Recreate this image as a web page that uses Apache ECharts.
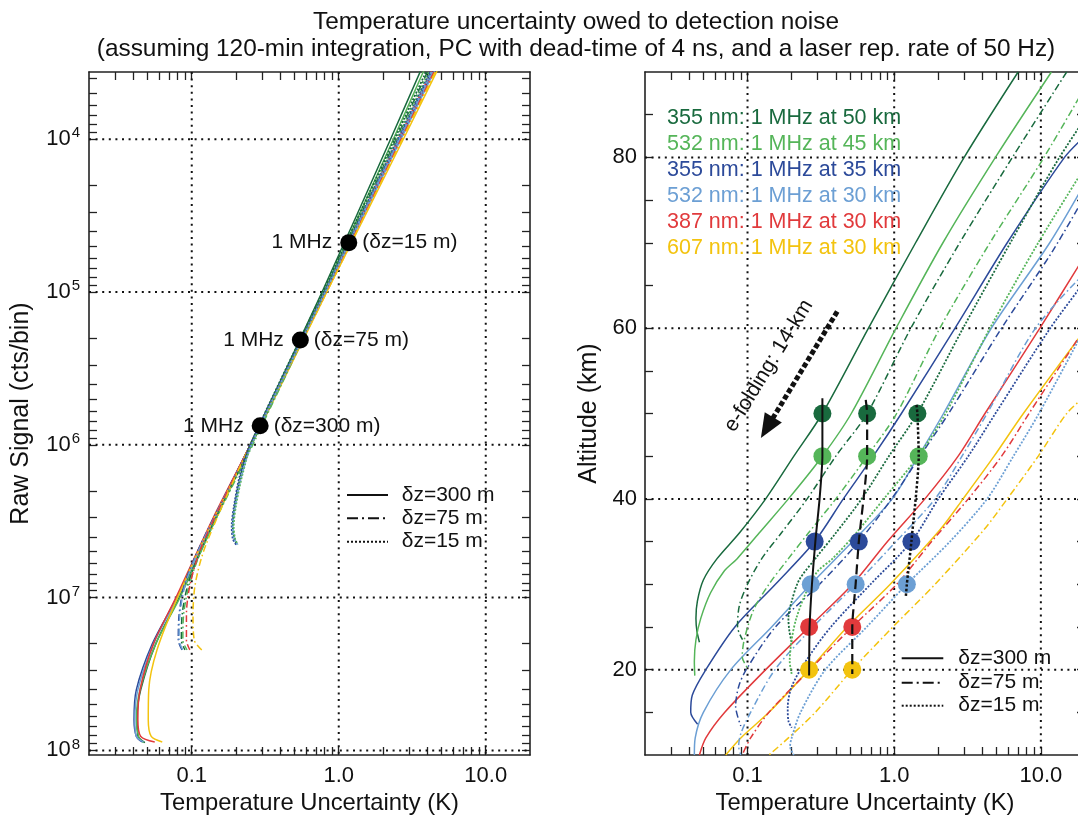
<!DOCTYPE html>
<html>
<head>
<meta charset="utf-8">
<script src="https://cdn.jsdelivr.net/npm/echarts@6.0.0/dist/echarts.min.js"></script>
<style>
html,body{margin:0;padding:0;background:#ffffff;}
#chart{width:1078px;height:816px;}
</style>
</head>
<body>
<div id="chart"></div>
<script>
// ===================== DATA =====================
const titleLine1 = 'Temperature uncertainty owed to detection noise';
const titleLine2 = '(assuming 120-min integration, PC with dead-time of 4 ns, and a laser rep. rate of 50 Hz)';
const xAxisTitle = 'Temperature Uncertainty (K)';
const leftYTitle = 'Raw Signal (cts/bin)';
const rightYTitle = 'Altitude (km)';

// colour order: 355 nm (50 km), 532 nm (45 km), 355 nm (35 km), 532 nm (30 km), 387 nm, 607 nm
const curveColors = ['#196a3e', '#55b559', '#2c4a9a', '#6c9fd4', '#e13a3c', '#f3c30f'];
const legendLabels = ['355 nm: 1 MHz at 50 km', '532 nm: 1 MHz at 45 km', '355 nm: 1 MHz at 35 km',
                      '532 nm: 1 MHz at 30 km', '387 nm: 1 MHz at 30 km', '607 nm: 1 MHz at 30 km'];
const styleLabels = ['\u03b4z=300 m', '\u03b4z=75 m', '\u03b4z=15 m'];

const xTickValues = [0.1, 1, 10];
const xTickLabels = ['0.1', '1.0', '10.0'];
const xRange = [0.02, 20];
const signalTickPowers = [4, 5, 6, 7, 8];
const signalRangeLog = [3.56, 8.03];
const altitudeTicks = [20, 40, 60, 80];
const altitudeRange = [10, 90];

// ---------- right panel: [uncertainty K, altitude km] ----------
const rDG300 = [[7.0,90],[3.0,80],[1.4,70],[0.668,60],[0.324,50],[0.207,45],[0.133,40],[0.088,36],[0.062,33],[0.05,30.5],[0.0455,28],[0.0445,26],[0.0452,24.5],[0.047,23.2]];
const rG300  = [[11.8,90],[4.9,80],[2.15,70],[1.03,60],[0.51,50],[0.324,45],[0.19,40],[0.12,36],[0.085,33],[0.069,31.5],[0.056,29],[0.048,26],[0.0445,23.5],[0.0434,21],[0.0437,19.3]];
const rB300  = [[20,82.5],[14.5,80],[5.9,70],[2.6,60],[1.12,50],[0.72,45],[0.45,40],[0.287,35],[0.155,30],[0.082,25],[0.052,20],[0.042,17],[0.041,15],[0.0457,13.6]];
const rLB300 = [[20,77],[11.5,70],[4.6,60],[2.17,50],[1.46,45],[0.97,40],[0.52,35],[0.27,30],[0.146,25],[0.077,20],[0.05,15],[0.044,12],[0.0434,10]];
const rR300  = [[20,68.5],[9.85,60],[4.16,50],[2.73,45],[1.62,40],[0.9,35],[0.52,30],[0.263,25],[0.133,20],[0.07,15],[0.052,12],[0.047,10]];
const rY300  = [[20,59.8],[7.6,50],[4.8,45],[2.95,40],[2.06,36.4],[0.94,30],[0.478,25],[0.263,20],[0.14,15],[0.09,12],[0.071,10]];

const rDG75 = [[15,90],[6.4,80],[2.8,70],[1.3,60],[0.654,50],[0.40,45],[0.255,40],[0.17,36],[0.125,33],[0.1,30],[0.088,27.5],[0.0855,25],[0.0925,23.5]];
const rG75  = [[23,90],[10.5,80],[4.5,70],[2.05,60],[1.04,50],[0.654,45],[0.4,40],[0.26,36],[0.19,33],[0.14,30],[0.11,27],[0.095,23.5],[0.092,21.5],[0.1,20.2]];
const rB75  = [[20,75.5],[12,69],[5.4,60],[2.35,50],[1.5,45],[0.96,40],[0.574,35],[0.31,30],[0.155,25],[0.098,20],[0.087,18],[0.083,15.7],[0.09,13.4]];
const rLB75 = [[20,66.5],[9.2,60],[4.3,50],[2.9,45],[1.9,40],[1.03,35],[0.546,30],[0.28,25],[0.154,20],[0.105,15],[0.09,12.5],[0.087,11],[0.09,10]];
const rR75  = [[20,60],[8.3,50],[5.4,45],[3.2,40],[1.8,35],[1.04,30],[0.518,25],[0.266,20],[0.14,15],[0.105,12],[0.092,10]];
const rY75  = [[20,52],[15,50],[9.6,45],[5.9,40],[4.1,36.4],[1.9,30],[0.98,25],[0.518,20],[0.29,15],[0.19,12],[0.14,10]];

const rDG15 = [[30,89],[13.4,80],[6.2,70],[2.95,60],[1.44,50],[0.92,45],[0.6,40],[0.4,36],[0.29,33],[0.225,30.5],[0.2,28],[0.19,26],[0.193,24.5],[0.2,23.2]];
const rG15  = [[22,80],[9.6,70],[4.5,60],[2.24,50],[1.46,45],[0.85,40],[0.55,36],[0.38,33],[0.3,31.5],[0.25,29],[0.215,26],[0.2,23.5],[0.194,21],[0.2,19.5]];
const rB15  = [[20,65.5],[11.6,60],[4.9,50],[3.2,45],[2.0,40],[1.31,35],[0.69,30],[0.37,25],[0.25,21],[0.2,18],[0.188,15.5],[0.19,14],[0.2,13.2]];
const rLB15 = [[20,60],[9.7,50],[6.5,45],[4.3,40],[2.4,35],[1.22,30],[0.65,25],[0.34,20],[0.23,15],[0.2,12],[0.195,11],[0.207,10]];

// 1 MHz markers (right panel) per bin size: [K, km]
const mark300 = [[0.324,50],[0.324,45],[0.287,35],[0.27,30],[0.263,25],[0.263,20]];
const mark75  = [[0.654,50],[0.654,45],[0.574,35],[0.546,30],[0.518,25],[0.518,20]];
const mark15  = [[1.44,50],[1.47,45],[1.31,35],[1.22,30]];
// black connectors through the markers
const link300 = [[0.324,51.8],[0.324,45],[0.31,40],[0.29,35],[0.275,30],[0.265,25],[0.263,19.3]];
const link75  = [[0.64,51.6],[0.654,50],[0.654,45],[0.574,35],[0.546,30],[0.518,25],[0.518,19.5]];
const link15  = [[1.42,51],[1.44,50],[1.47,45],[1.31,35],[1.22,30],[1.2,28.5]];

// e-folding arrow (start, end) and its label anchor
const efoldArrow = [[0.409,61.94],[0.136,48.34]];
const efoldLabel = [0.1396, 55.6];
const efoldText = 'e-folding: 14-km';

// ---------- left panel: [uncertainty K, raw signal cts/bin] ----------
const lDG300 = [[3.9,3e3],[2.25,1e4],[0.77,1e5],[0.25,1e6],[0.145,3e6],[0.082,1e7],[0.057,2e7],[0.045,4e7],[0.0425,6e7],[0.043,8e7],[0.048,8.9e7]];
const lG300  = [[4.1,3e3],[2.35,1e4],[0.79,1e5],[0.255,1e6],[0.147,3e6],[0.083,1e7],[0.057,2e7],[0.0445,4e7],[0.042,6.3e7],[0.0435,8.1e7],[0.047,8.9e7]];
const lB300  = [[4.8,3e3],[2.6,1e4],[0.81,1e5],[0.25,1e6],[0.142,3e6],[0.079,1e7],[0.054,2e7],[0.042,4e7],[0.0405,6.3e7],[0.042,8.1e7],[0.046,8.8e7]];
const lLB300 = [[4.9,3e3],[2.65,1e4],[0.82,1e5],[0.255,1e6],[0.144,3e6],[0.08,1e7],[0.055,2e7],[0.043,4e7],[0.041,6.3e7],[0.042,8.1e7],[0.047,8.8e7]];
const lR300  = [[4.7,3e3],[2.55,1e4],[0.8,1e5],[0.25,1e6],[0.14,3e6],[0.078,1e7],[0.055,2e7],[0.0445,4e7],[0.043,6.3e7],[0.045,8.1e7],[0.056,8.8e7]];
const lY300  = [[5.1,3e3],[2.75,1e4],[0.83,1e5],[0.255,1e6],[0.142,3e6],[0.08,1e7],[0.058,2.2e7],[0.051,4e7],[0.0506,6.3e7],[0.053,8.1e7],[0.063,8.8e7]];

const lDG75 = [[4.4,3e3],[0.8,1e5],[0.255,1e6],[0.12,4.5e6],[0.095,8e6],[0.086,1.3e7],[0.085,1.9e7],[0.09,2.2e7]];
const lG75  = [[4.6,3e3],[0.81,1e5],[0.26,1e6],[0.121,4.5e6],[0.097,8e6],[0.088,1.3e7],[0.087,1.9e7],[0.093,2.2e7]];
const lB75  = [[4.7,3e3],[0.8,1e5],[0.25,1e6],[0.115,4.5e6],[0.09,8e6],[0.082,1.3e7],[0.081,1.9e7],[0.086,2.2e7]];
const lLB75 = [[4.8,3e3],[0.8,1e5],[0.25,1e6],[0.116,4.5e6],[0.091,8e6],[0.083,1.3e7],[0.082,1.9e7],[0.087,2.2e7]];
const lR75  = [[4.9,3e3],[0.82,1e5],[0.25,1e6],[0.118,4.5e6],[0.098,8e6],[0.092,1.3e7],[0.092,1.9e7],[0.097,2.2e7]];
const lY75  = [[5.0,3e3],[0.83,1e5],[0.25,1e6],[0.125,4.5e6],[0.106,8e6],[0.102,1.3e7],[0.104,1.9e7],[0.117,2.2e7]];

const lDG15 = [[4.3,3e3],[0.78,1e5],[0.25,1e6],[0.215,1.6e6],[0.196,2.5e6],[0.19,3.4e6],[0.195,4.1e6],[0.203,4.5e6]];
const lG15  = [[4.5,3e3],[0.8,1e5],[0.255,1e6],[0.22,1.6e6],[0.2,2.5e6],[0.193,3.4e6],[0.197,4.1e6],[0.206,4.5e6]];
const lB15  = [[4.6,3e3],[0.8,1e5],[0.25,1e6],[0.212,1.6e6],[0.194,2.5e6],[0.187,3.4e6],[0.19,4.1e6],[0.2,4.5e6]];
const lLB15 = [[4.7,3e3],[0.81,1e5],[0.255,1e6],[0.218,1.6e6],[0.198,2.5e6],[0.19,3.4e6],[0.194,4.1e6],[0.205,4.5e6]];

// left panel 1 MHz markers: [K, cts/bin]
const leftMarks = [[1.17,4.75e4],[0.548,2.06e5],[0.292,7.5e5]];
const leftMarkRight = ['(\u03b4z=15 m)', '(\u03b4z=75 m)', '(\u03b4z=300 m)'];
const leftMarkLeft = '1 MHz';

// ===================== BUILD =====================
const FONT = '"Liberation Sans", Arial, Helvetica, sans-serif';
const INK = '#111111';
const L = v => Math.log10(v);

function logTicks(lo, hi) {
  const out = [];
  for (let d = Math.floor(lo) - 1; d <= Math.ceil(hi); d++) {
    for (let m = 1; m <= 9; m++) {
      const v = Math.log10(m) + d;
      if (v > lo + 1e-6 && v < hi - 1e-6) out.push(v);
    }
  }
  return out;
}
const xLo = L(xRange[0]), xHi = L(xRange[1]);
const xTicks = logTicks(xLo, xHi);
const sigTicks = logTicks(signalRangeLog[0], signalRangeLog[1]);
const altTicks = [];
for (let a = altitudeRange[0] + 5; a < altitudeRange[1]; a += 5) altTicks.push(a);

const styles = {
  s300: { type: 'solid', width: 1.5 },
  s75:  { type: [7, 3, 1.6, 3], width: 1.5 },
  s15:  { type: [2, 1.6], width: 1.8 }
};

function curve(grid, pts, color, style, ymap) {
  return {
    type: 'line', xAxisIndex: grid * 2, yAxisIndex: grid * 2,
    data: pts.map(p => [L(p[0]), ymap(p[1])]),
    showSymbol: false, symbol: 'none', smooth: 0.3, silent: true, z: 3,
    lineStyle: Object.assign({ color: color, cap: 'butt' }, styles[style]),
    animation: false
  };
}
const idY = v => v;

const series = [];

// grid lines (dotted)
const gridDot = { color: '#111', width: 2, type: [2, 4.6] };
function gline(grid, pts) {
  return { type: 'line', xAxisIndex: grid * 2, yAxisIndex: grid * 2, data: pts, showSymbol: false, symbol: 'none',
           silent: true, z: 1, lineStyle: gridDot, animation: false };
}
xTickValues.forEach(v => {
  series.push(gline(0, [[L(v), signalRangeLog[0]], [L(v), signalRangeLog[1]]]));
  series.push(gline(1, [[L(v), altitudeRange[0]], [L(v), altitudeRange[1]]]));
});
signalTickPowers.forEach(p => series.push(gline(0, [[xLo, p], [xHi, p]])));
altitudeTicks.forEach(a => series.push(gline(1, [[xLo, a], [xHi, a]])));

// left panel curves
[[lDG300,0],[lG300,1],[lB300,2],[lLB300,3],[lR300,4],[lY300,5]].forEach(c => series.push(curve(0, c[0], curveColors[c[1]], 's300', L)));
[[lDG75,0],[lG75,1],[lB75,2],[lLB75,3],[lR75,4],[lY75,5]].forEach(c => series.push(curve(0, c[0], curveColors[c[1]], 's75', L)));
[[lDG15,0],[lG15,1],[lB15,2],[lLB15,3]].forEach(c => series.push(curve(0, c[0], curveColors[c[1]], 's15', L)));

// right panel curves
[[rDG300,0],[rG300,1],[rB300,2],[rLB300,3],[rR300,4],[rY300,5]].forEach(c => series.push(curve(1, c[0], curveColors[c[1]], 's300', idY)));
[[rDG75,0],[rG75,1],[rB75,2],[rLB75,3],[rR75,4],[rY75,5]].forEach(c => series.push(curve(1, c[0], curveColors[c[1]], 's75', idY)));
[[rDG15,0],[rG15,1],[rB15,2],[rLB15,3]].forEach(c => series.push(curve(1, c[0], curveColors[c[1]], 's15', idY)));

// right panel markers
[mark300, mark75, mark15].forEach(m => {
  series.push({
    type: 'scatter', xAxisIndex: 2, yAxisIndex: 2, symbol: 'circle', symbolSize: 18, silent: true, z: 4,
    data: m.map((p, i) => ({ value: [L(p[0]), p[1]], itemStyle: { color: curveColors[i], opacity: 1 } })),
    itemStyle: { opacity: 1 },
    animation: false
  });
});
// black connectors
[[link300, { type: 'solid', width: 2 }], [link75, { type: [10, 5], width: 2.2 }], [link15, { type: [2.5, 2], width: 2.5 }]].forEach(l => {
  series.push({
    type: 'line', xAxisIndex: 2, yAxisIndex: 2, data: l[0].map(p => [L(p[0]), p[1]]),
    showSymbol: false, symbol: 'none', smooth: 0.2, silent: true, z: 5,
    lineStyle: Object.assign({ color: '#111' }, l[1]), animation: false
  });
});
// e-folding arrow
series.push({
  type: 'line', xAxisIndex: 2, yAxisIndex: 2, data: efoldArrow.map(p => [L(p[0]), p[1]]),
  showSymbol: false, symbol: 'none', silent: true, z: 5, lineStyle: { opacity: 0 }, animation: false,
  markLine: {
    silent: true, symbol: ['none', 'triangle'], symbolSize: [20, 24], animation: false,
    label: { show: false }, emphasis: { disabled: true },
    lineStyle: { color: '#111', width: 5, type: [5, 2.5], opacity: 1 },
    data: [[{ coord: [L(efoldArrow[0][0]), efoldArrow[0][1]] }, { coord: [L(efoldArrow[1][0]), efoldArrow[1][1]] }]]
  }
});
series.push({
  type: 'scatter', xAxisIndex: 2, yAxisIndex: 2, symbolSize: 0, silent: true, z: 6, animation: false,
  data: [[L(efoldLabel[0]), efoldLabel[1]]],
  label: { show: true, position: 'inside', formatter: efoldText, rotate: 58.5, fontSize: 21, fontFamily: FONT, color: INK, opacity: 1 }
});

// left panel markers & labels
series.push({
  type: 'scatter', xAxisIndex: 0, yAxisIndex: 0, symbol: 'circle', symbolSize: 17, silent: true, z: 6, animation: false,
  itemStyle: { color: '#000', opacity: 1 },
  data: leftMarks.map((p, i) => ({ value: [L(p[0]), L(p[1])], label: { formatter: leftMarkRight[i] } })),
  label: { show: true, position: 'right', distance: 5, fontSize: 21, fontFamily: FONT, color: INK, opacity: 1 }
});
series.push({
  type: 'scatter', xAxisIndex: 0, yAxisIndex: 0, symbolSize: 1, silent: true, z: 6, animation: false,
  itemStyle: { color: 'rgba(0,0,0,0)' },
  data: leftMarks.map(p => [L(p[0]), L(p[1])]),
  label: { show: true, position: 'left', distance: 16, formatter: leftMarkLeft, fontSize: 21, fontFamily: FONT, color: INK, opacity: 1 }
});

// axes
const axLine = { show: true, onZero: false, lineStyle: { color: '#222', width: 1.6 } };
function xAx(grid, pos, withLabels) {
  return {
    type: 'value', gridIndex: grid, position: pos, min: xLo, max: xHi,
    axisLine: axLine,
    axisTick: { show: true, inside: true, length: 8, customValues: xTicks, lineStyle: { color: '#222', width: 1.3 } },
    axisLabel: withLabels ? {
      show: true, customValues: xTickValues.map(L), margin: 10, fontSize: 22, fontFamily: FONT, color: INK,
      formatter: v => { const i = xTickValues.findIndex(t => Math.abs(L(t) - v) < 1e-6); return i >= 0 ? xTickLabels[i] : ''; }
    } : { show: false },
    splitLine: { show: false },
    name: withLabels ? xAxisTitle : '', nameLocation: 'middle', nameGap: 35,
    nameTextStyle: { fontSize: 23.8, fontFamily: FONT, color: INK }
  };
}
const xAxis = [xAx(0, 'bottom', true), xAx(0, 'top', false), xAx(1, 'bottom', true), xAx(1, 'top', false)];

const yAxis = [
  {
    type: 'value', gridIndex: 0, position: 'left', inverse: true, min: signalRangeLog[0], max: signalRangeLog[1],
    axisLine: axLine,
    axisTick: { show: true, inside: true, length: 8, customValues: sigTicks, lineStyle: { color: '#222', width: 1.3 } },
    axisLabel: {
      show: true, customValues: signalTickPowers, margin: 9, color: INK,
      formatter: v => '{b|10}{s|' + Math.round(v) + '}',
      rich: { b: { fontSize: 22, fontFamily: FONT, color: INK }, s: { fontSize: 15, fontFamily: FONT, color: INK, padding: [0, 0, 12, 1] } }
    },
    splitLine: { show: false },
    name: leftYTitle, nameLocation: 'middle', nameGap: 55,
    nameTextStyle: { fontSize: 25, fontFamily: FONT, color: INK }
  },
  {
    type: 'value', gridIndex: 0, position: 'right', inverse: true, min: signalRangeLog[0], max: signalRangeLog[1],
    axisLine: axLine,
    axisTick: { show: true, inside: true, length: 8, customValues: sigTicks, lineStyle: { color: '#222', width: 1.3 } },
    axisLabel: { show: false }, splitLine: { show: false }
  },
  {
    type: 'value', gridIndex: 1, position: 'left', min: altitudeRange[0], max: altitudeRange[1],
    axisLine: axLine,
    axisTick: { show: true, inside: true, length: 8, customValues: altTicks, lineStyle: { color: '#222', width: 1.3 } },
    axisLabel: { show: true, customValues: altitudeTicks, margin: 8, fontSize: 22, fontFamily: FONT, color: INK },
    splitLine: { show: false },
    name: rightYTitle, nameLocation: 'middle', nameGap: 43,
    nameTextStyle: { fontSize: 25, fontFamily: FONT, color: INK }
  },
  {
    type: 'value', gridIndex: 1, position: 'right', min: altitudeRange[0], max: altitudeRange[1],
    axisLine: axLine,
    axisTick: { show: true, inside: true, length: 8, customValues: altTicks, lineStyle: { color: '#222', width: 1.3 } },
    axisLabel: { show: false }, splitLine: { show: false }
  }
];

// legends drawn as graphic decorations
const graphic = [];
legendLabels.forEach((t, i) => {
  graphic.push({ type: 'text', x: 667, y: 118.3 + i * 25.9, z: 10,
    style: { text: t, fill: curveColors[i], font: '21.5px ' + FONT, verticalAlign: 'middle', align: 'left' } });
});
const keyDash = [null, [11, 4, 2, 4], [2, 2]];
function styleKey(x1, x2, tx, ys) {
  ys.forEach((y, i) => {
    graphic.push({ type: 'line', z: 10, shape: { x1: x1, y1: y, x2: x2, y2: y },
      style: { stroke: '#111', lineWidth: 2, lineDash: keyDash[i] } });
    graphic.push({ type: 'text', x: tx, y: y, z: 10,
      style: { text: styleLabels[i], fill: INK, font: '21px ' + FONT, verticalAlign: 'middle', align: 'left' } });
  });
}
styleKey(347, 388, 401.7, [495, 518.3, 541.7]);
styleKey(901.7, 943.3, 958.3, [658.3, 682.7, 705.7]);

const option = {
  animation: false,
  backgroundColor: '#ffffff',
  title: {
    text: titleLine1 + '\n' + titleLine2, left: 571, textAlign: 'center', top: 4,
    textStyle: { fontSize: 24.4, lineHeight: 27, fontWeight: 'normal', fontFamily: FONT, color: INK, align: 'center' }
  },
  grid: [
    { left: 89, right: 548, top: 72, bottom: 61, containLabel: false, outerBoundsMode: 'none' },
    { left: 645, right: -7, top: 72, bottom: 61, containLabel: false, outerBoundsMode: 'none' }
  ],
  xAxis: xAxis,
  yAxis: yAxis,
  series: series,
  graphic: graphic
};

const chart = echarts.init(document.getElementById('chart'), null, { renderer: 'canvas' });
chart.setOption(option);
</script>
</body>
</html>
